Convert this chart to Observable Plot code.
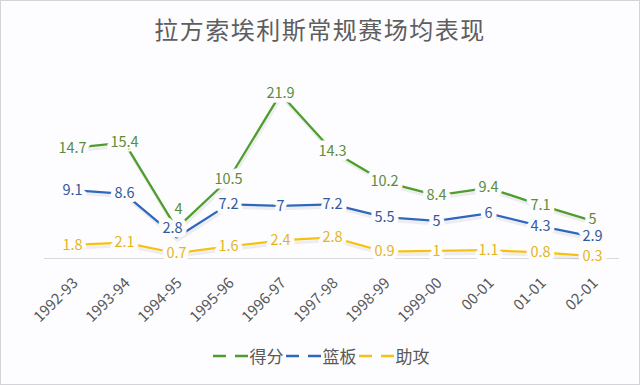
<!DOCTYPE html>
<html>
<head>
<meta charset="utf-8">
<script src="https://cdn.jsdelivr.net/npm/d3@7"></script>
<script src="https://cdn.jsdelivr.net/npm/@observablehq/plot@0.6"></script>
<style>
  html, body { margin: 0; padding: 0; background: #fff; }
  #wrap { position: relative; width: 638px; height: 383px; border: 1px solid #d4d4d8; background: #fdfcff; overflow: hidden; font-family: "Noto Sans CJK SC", "Noto Sans", sans-serif; }
  #title { height: 54px; line-height: 56px; text-align: center; font-size: 24px; color: #5e5e5e; letter-spacing: 1.5px; }
  #chart svg { display: block; background: transparent; }
  #legend { position: absolute; left: 0; width: 638px; top: 342px; display: flex; justify-content: center; align-items: center; font-size: 17px; color: #595959; }
  .item { display: flex; align-items: center; margin: 0; }
  .item svg { margin-right: 1px; }
</style>
</head>
<body>
<div id="wrap">
  <div id="title">拉方索埃利斯常规赛场均表现</div>
  <div id="chart"></div>
  <div id="legend"></div>
</div>
<script>
const seasons = ["1992-93","1993-94","1994-95","1995-96","1996-97","1997-98","1998-99","1999-00","00-01","01-01","02-01"];
const points   = [14.7, 15.4, 4, 10.5, 21.9, 14.3, 10.2, 8.4, 9.4, 7.1, 5];
const rebounds = [9.1, 8.6, 2.8, 7.2, 7, 7.2, 5.5, 5, 6, 4.3, 2.9];
const assists  = [1.8, 2.1, 0.7, 1.6, 2.4, 2.8, 0.9, 1, 1.1, 0.8, 0.3];
const seriesNames = ["得分", "篮板", "助攻"];
const lineColors  = ["#4f9d2d", "#2e67bd", "#f5c213"];
const labelColors = ["#5b8c3c", "#2f5a9e", "#e3b51f"];

const seriesValues = [points, rebounds, assists];
const data = [];
seriesNames.forEach((name, i) => {
  seasons.forEach((s, j) => data.push({season: s, value: seriesValues[i][j], series: name}));
});

const isPts95 = d => d.season === "1994-95" && d.series === "得分";
const isReb95 = d => d.season === "1994-95" && d.series === "篮板";
const isPtsLast = d => d.season === "02-01" && d.series === "得分";
const labelOpts = {
  x: "season", y: "value", text: d => String(d.value),
  fill: d => labelColors[seriesNames.indexOf(d.series)],
  stroke: "#fdfcff", strokeWidth: 9, strokeLinejoin: "round", fontSize: 14.5, paintOrder: "stroke"
};

const plot = Plot.plot({
  width: 638,
  height: 281,
  marginTop: 15,
  marginLeft: 43,
  marginRight: 20,
  marginBottom: 78,
  x: {type: "point", domain: seasons, padding: 0.5, label: null},
  y: {domain: [0, 25], axis: null},
  color: {domain: seriesNames, range: lineColors},
  style: {fontFamily: "'Noto Sans CJK SC', 'Noto Sans', sans-serif", fontSize: "13px", color: "#595959"},
  marks: [
    Plot.axisX({tickRotate: -45, tickSize: 0, tickPadding: 22, dx: 3, fontSize: 15, fill: "#595959", label: null}),
    Plot.ruleY([0], {stroke: "#d9d9d9", strokeWidth: 1}),
    Plot.line(data, {x: "season", y: "value", z: "series", stroke: "#7f7f7f", strokeWidth: 3, strokeOpacity: 0.12, dx: 1, dy: 3}),
    Plot.line(data, {x: "season", y: "value", stroke: "series", strokeWidth: 2.25}),
    Plot.text(data.filter(d => !isPts95(d) && !isReb95(d) && !isPtsLast(d)), labelOpts),
    Plot.text(data.filter(isReb95), {...labelOpts, dx: -4, dy: -9}),
    Plot.text(data.filter(isPts95), {...labelOpts, dx: 2, dy: -19}),
    Plot.text(data.filter(isPtsLast), {...labelOpts, dy: -2})
  ]
});
document.getElementById("chart").appendChild(plot);

const legend = document.getElementById("legend");
seriesNames.forEach((name, i) => {
  const item = document.createElement("div");
  item.className = "item";
  item.innerHTML = `<svg width="38" height="10"><line x1="2" y1="5" x2="15" y2="5" stroke="${lineColors[i]}" stroke-width="2.5"/><line x1="24" y1="5" x2="37" y2="5" stroke="${lineColors[i]}" stroke-width="2.5"/></svg><span>${name}</span>`;
  legend.appendChild(item);
});
</script>
</body>
</html>
